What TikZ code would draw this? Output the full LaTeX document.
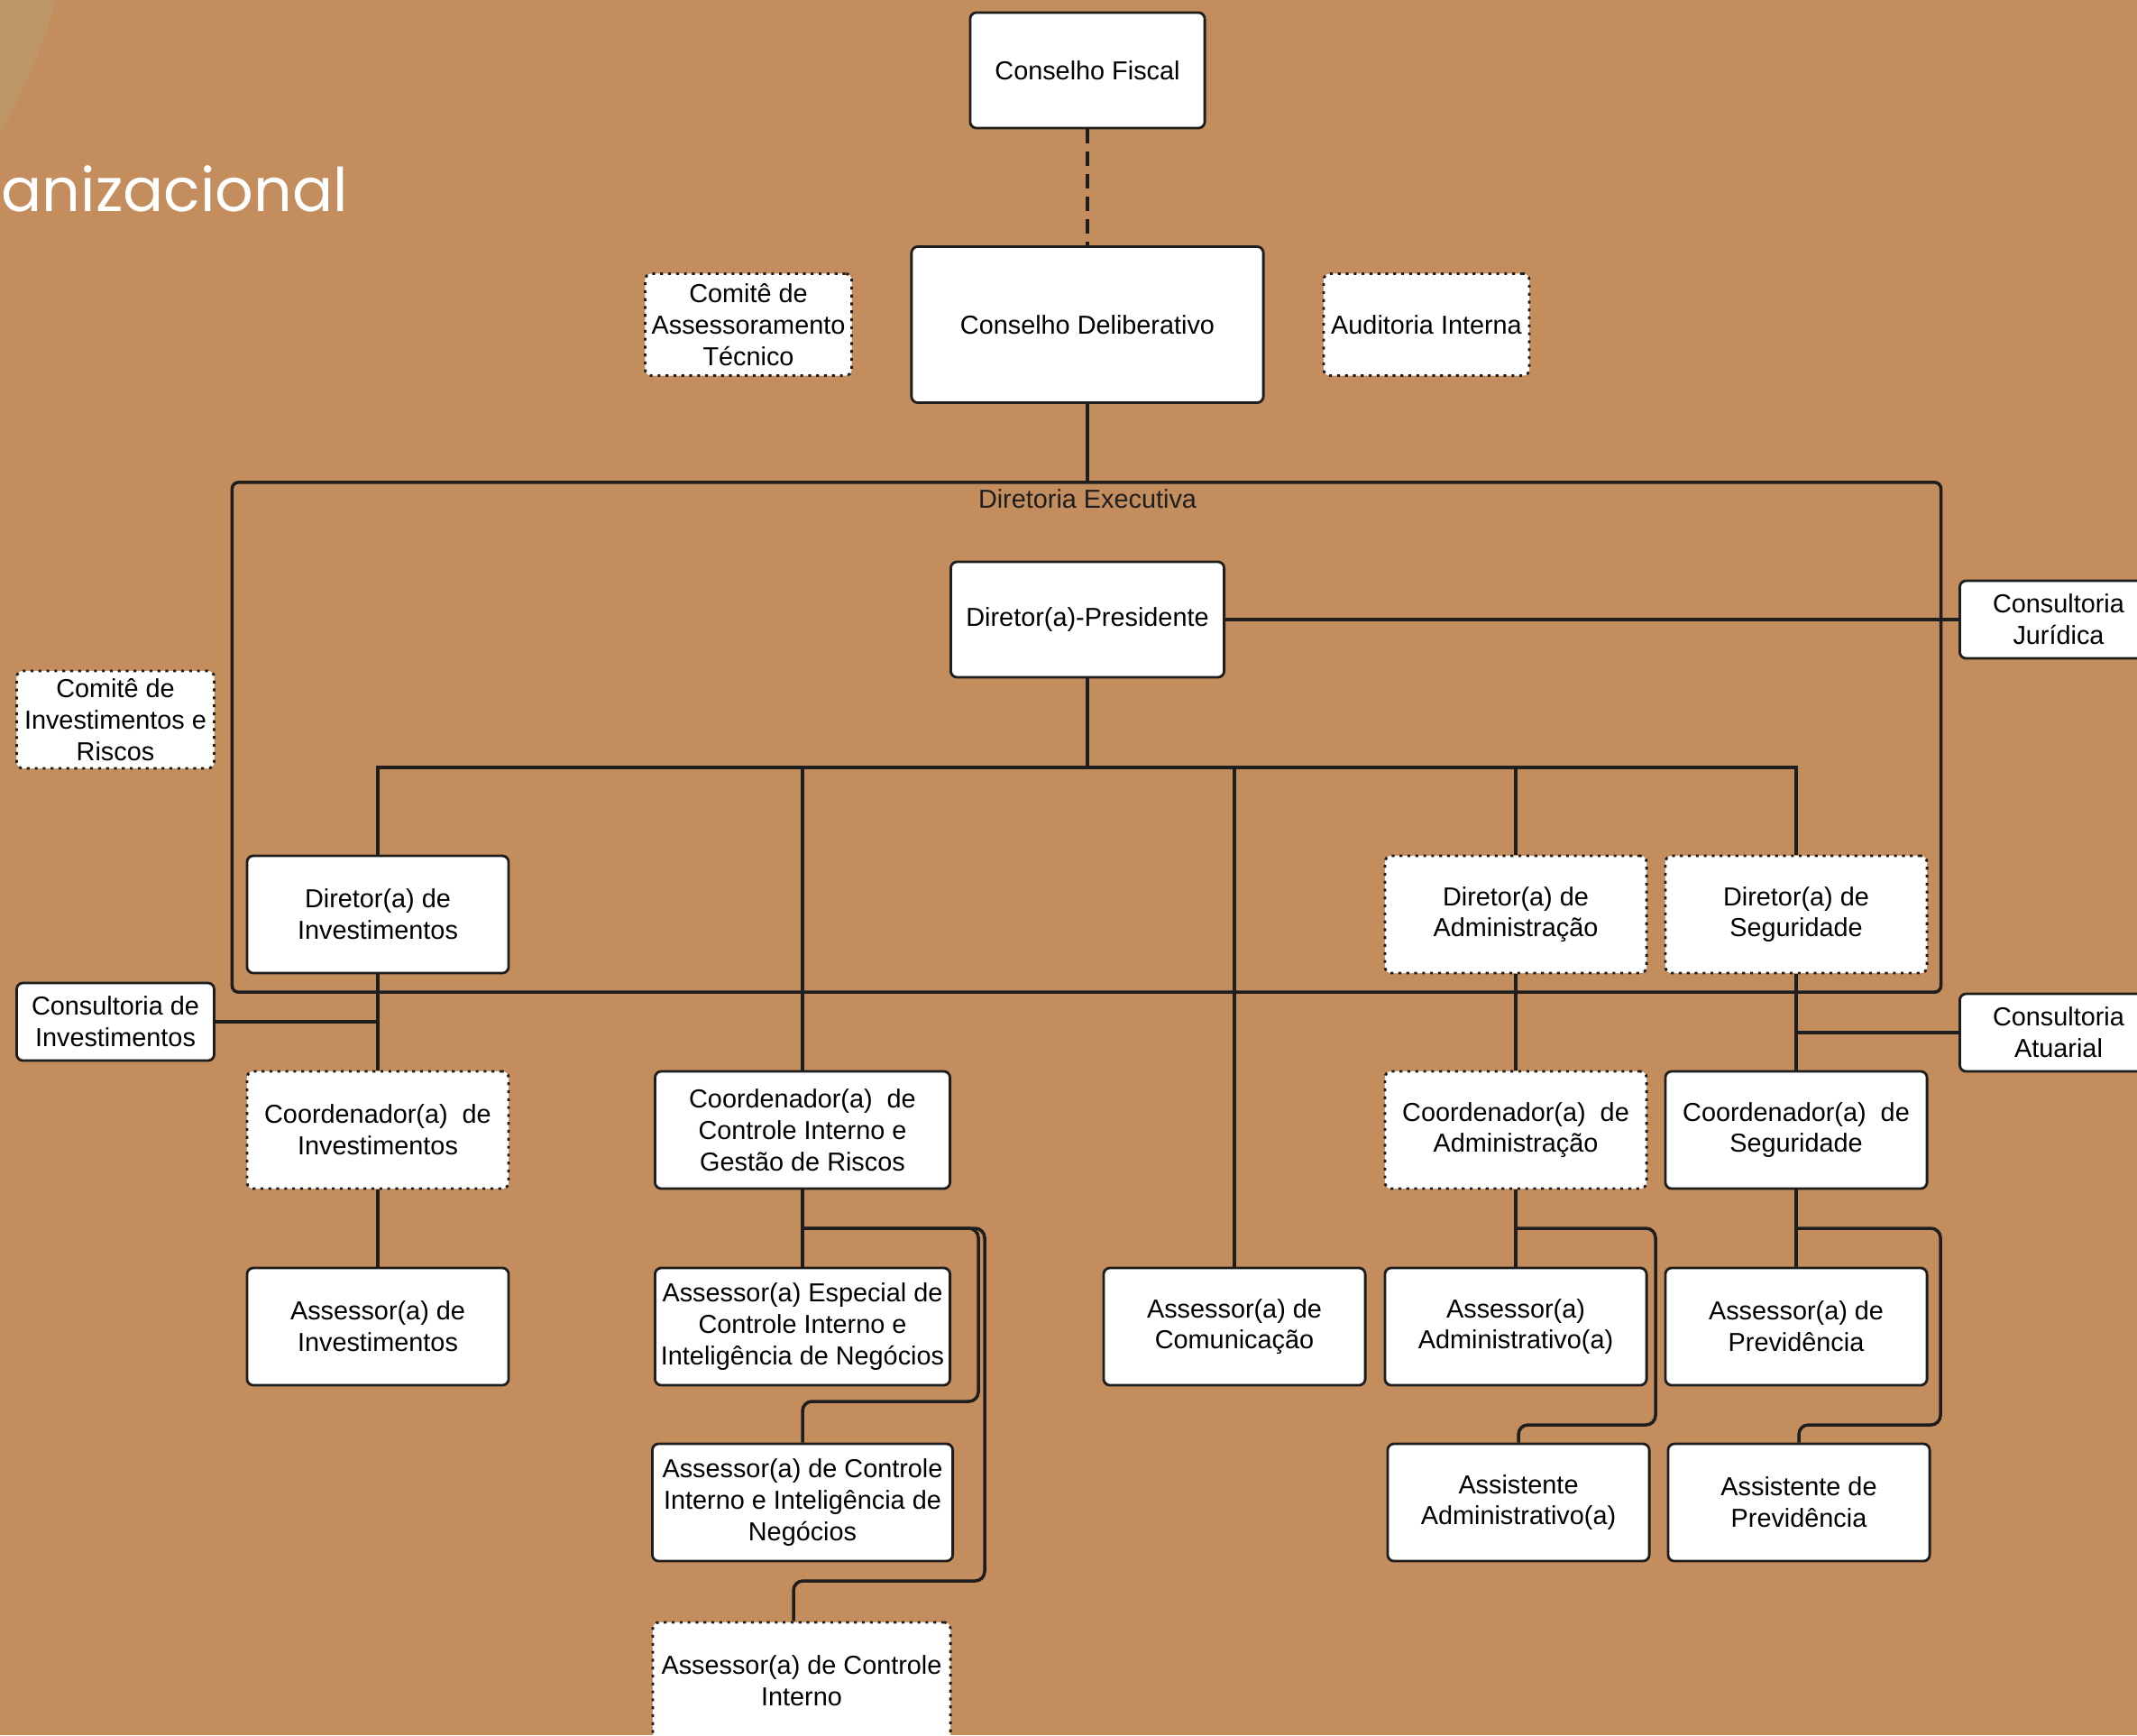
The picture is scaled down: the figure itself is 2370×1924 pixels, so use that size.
\documentclass[tikz,border=0pt]{standalone}
\usepackage{fontspec}
\setmainfont{Liberation Sans}
\newfontfamily\titlefont{Poppins}
\usetikzlibrary{positioning}
\definecolor{bgbrown}{HTML}{C48D5D}
\definecolor{bgarc}{HTML}{BE9768}
\definecolor{edgegray}{HTML}{1E1E1E}

\begin{document}
\begin{tikzpicture}[x=0.01cm, y=-0.01cm,
			box/.style={draw=edgegray, fill=white, rounded corners=2pt, line width=0.8pt, align=center, inner sep=1pt, font=\fontsize{8.2}{9.9}\selectfont},
			dotbox/.style={box, dash pattern=on 0.9pt off 1.6pt},
			unit/.style={minimum width=2.9cm, minimum height=1.3cm},
			side/.style={minimum width=2.19cm, minimum height=0.86cm},
			link/.style={draw=edgegray, line width=1pt}]
			\useasboundingbox (0,0) rectangle (2370,1924);
			\clip (0,0) rectangle (2370,1924);
			\fill[bgbrown] (0,0) rectangle (2370,1924);
			\fill[bgarc] (-570,-177) circle[radius=656];
			\node[anchor=base west, inner sep=0pt, text=white, font=\titlefont\fontsize{19}{23}\selectfont](title) at (1,234){anizacional};
			% top
			\node[box, minimum width=2.6cm, minimum height=1.28cm](fiscal) at (1206,78){Conselho Fiscal};
			\node[box, minimum width=3.9cm, minimum height=1.73cm](delib) at (1206,360){Conselho Deliberativo};
			\node[dotbox, minimum width=2.29cm, minimum height=1.13cm](comtec) at (830,360){Comitê de\\Assessoramento\\Técnico};
			\node[dotbox, minimum width=2.28cm, minimum height=1.13cm](audit) at (1582,360){Auditoria Interna};
			% diretoria
			\node[draw=edgegray, line width=1pt, rounded corners=2pt, minimum width=18.94cm, minimum height=5.65cm](direx) at (1205,817.5){};
			\node[text=edgegray, font=\fontsize{8.2}{9.9}\selectfont](direxlabel) at (1206,553){Diretoria Executiva};
			\node[box, minimum width=3.03cm, minimum height=1.28cm](pres) at (1206,687){Diretor(a)-Presidente};
			\node[box, side](jur) at (2283,687){Consultoria\\Jurídica};
			\node[dotbox, minimum width=2.19cm, minimum height=1.08cm](cominv) at (128,798){Comitê de\\Investimentos e\\Riscos};
			\node[box, unit](dirinv) at (419,1014){Diretor(a) de\\Investimentos};
			\node[dotbox, unit](diradm) at (1681,1014){Diretor(a) de\\Administração};
			\node[dotbox, unit](dirseg) at (1992,1014){Diretor(a) de\\Seguridade};
			\node[box, side](consinv) at (128,1133){Consultoria de\\Investimentos};
			\node[box, side](consatu) at (2283,1145){Consultoria\\Atuarial};
			% coordenacoes
			\node[dotbox, unit](coordinv) at (419,1253){Coordenador(a)~~de\\Investimentos};
			\node[box, unit, minimum width=3.27cm](coordci) at (890,1253){Coordenador(a)~~de\\Controle Interno e\\Gestão de Riscos};
			\node[dotbox, unit](coordadm) at (1681,1253){Coordenador(a)~~de\\Administração};
			\node[box, unit](coordseg) at (1992,1253){Coordenador(a)~~de\\Seguridade};
			% assessores
			\node[box, unit](assinv) at (419,1471){Assessor(a) de\\Investimentos};
			\node[box, unit, minimum width=3.27cm](assesp) at (890,1471){Assessor(a) Especial de\\Controle Interno e\\Inteligência de Negócios};
			\node[box, unit](asscom) at (1369,1471){Assessor(a) de\\Comunicação};
			\node[box, unit](assadm) at (1681,1471){Assessor(a)\\Administrativo(a)};
			\node[box, unit](assprev) at (1992,1471){Assessor(a) de\\Previdência};
			\node[box, unit, minimum width=3.33cm](assciin) at (890,1666){Assessor(a) de Controle\\Interno e Inteligência de\\Negócios};
			\node[box, unit](assistadm) at (1684,1666){Assistente\\Administrativo(a)};
			\node[box, unit](assistprev) at (1995,1666){Assistente de\\Previdência};
			\node[dotbox, unit, minimum width=3.3cm](assci) at (889,1864){Assessor(a) de Controle\\Interno};
			% links
			\path[link, dash pattern=on 4.5pt off 2.6pt] (fiscal) -- (delib);
			\path[link] (delib.south) -- (delib.south |- direx.north);
			\path[link] (pres) -- (jur);
			\coordinate (bus) at (1206,851);
			\path[link] (pres) -- (bus);
			\foreach \n in {dirinv, coordci, asscom, diradm, dirseg}
				\path[link] (bus) -| (\n.north);
			\path[link] (dirinv) -- (coordinv);
			\path[link] (coordinv) -- (assinv);
			\path[link] (consinv) -- (consinv -| dirinv);
			\path[link] (coordci) -- (assesp);
			\coordinate (cijoin) at (890,1362);
			\coordinate (cibend) at (1085,1554);
			\coordinate (cibendb) at (1092,1753);
			\path[link, rounded corners=3pt] (cijoin) -| (cibend) -| (assciin.north);
			\path[link, rounded corners=3pt] (cijoin) -| (cibendb) -| ([xshift=-0.09cm]assci.north);
			\path[link] (diradm) -- (coordadm);
			\path[link] (coordadm) -- (assadm);
			\coordinate (admjoin) at (1681,1362);
			\coordinate (admbend) at (1836,1580);
			\path[link, rounded corners=3pt] (admjoin) -| (admbend) -| (assistadm.north);
			\path[link] (dirseg) -- (coordseg);
			\path[link] (coordseg) -- (assprev);
			\path[link] (consatu) -- (consatu -| dirseg);
			\coordinate (segjoin) at (1992,1362);
			\coordinate (segbend) at (2152,1580);
			\path[link, rounded corners=3pt] (segjoin) -| (segbend) -| (assistprev.north);
\end{tikzpicture}
\end{document}
